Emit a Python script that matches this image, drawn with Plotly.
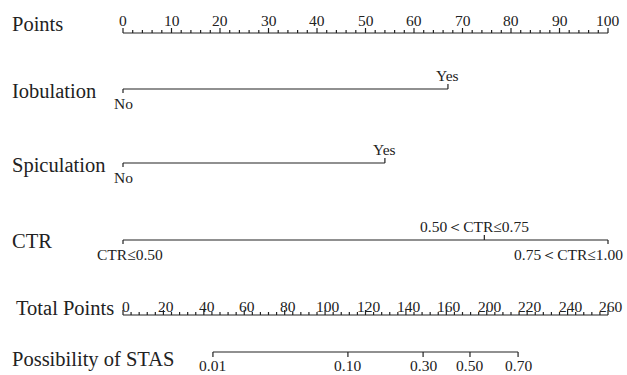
import plotly.graph_objects as go

# ---------------- data ----------------
row_names = ["Points", "Iobulation", "Spiculation", "CTR", "Total Points", "Possibility of STAS"]

points_major = list(range(0, 101, 10))
points_minor = list(range(0, 101, 2))

iob_labels = ["No", "Yes"]
iob_points = [0, 67]
spic_labels = ["No", "Yes"]
spic_points = [0, 54]
ctr_labels = ["CTR≤0.50", "0.50＜CTR≤0.75", "0.75＜CTR≤1.00"]
ctr_points = [0, 74.5, 100]

total_major = list(range(0, 241, 20))
total_minor = list(range(0, 241, 4))
total_tick_labels = ["0", "20", "40", "60", "80", "100", "120", "140", "160",
                     "200", "220", "240", "260"]

prob_labels = ["0.01", "0.10", "0.30", "0.50", "0.70"]
prob_total_points = [44.5, 111.3, 148.5, 171.7, 195.5]

# ---------------- layout constants (pixels) ----------------
W, H = 627, 375
X0, X1 = 123, 608            # pixel span of Points 0..100
row_y = {"Points": 33, "Iobulation": 89, "Spiculation": 163, "CTR": 240,
         "Total Points": 315, "Possibility of STAS": 352}
name_y = {"Points": 24, "Iobulation": 91, "Spiculation": 165, "CTR": 241,
          "Total Points": 308, "Possibility of STAS": 359}
INK = "#222222"
SERIF = "Liberation Serif, Times New Roman, serif"
TICK_SIZE = 15.5

pt_per_px = 100 / (X1 - X0)
x_range = [(0 - X0) * pt_per_px, (W - X0) * pt_per_px]
tp_per_px = (total_major[-1] - total_major[0]) / (X1 - X0)
x2_range = [(0 - X0) * tp_per_px, (W - X0) * tp_per_px]

fig = go.Figure()
annotations = []


def add_lines(xs, ys, axis="x"):
    fig.add_trace(go.Scatter(x=xs, y=ys, mode="lines", xaxis=axis, yaxis="y",
                             line=dict(color=INK, width=1.2), hoverinfo="skip",
                             showlegend=False))


def text(x, y, s, axis="x", size=TICK_SIZE, xanchor="center", xshift=0):
    annotations.append(dict(x=x, y=y, xref=axis, yref="y", text=s, showarrow=False,
                            xanchor=xanchor, yanchor="middle", xshift=xshift,
                            font=dict(family=SERIF, size=size, color=INK)))


# row names
for name in row_names:
    annotations.append(dict(x=(10 if name != "Total Points" else 14) / W, y=name_y[name],
                            xref="paper", yref="y", text=name, showarrow=False,
                            xanchor="left", yanchor="middle",
                            font=dict(family=SERIF, size=20.5, color=INK)))

# Points axis
y = row_y["Points"]
add_lines([points_minor[0], points_minor[-1]], [y, y])
xs, ys = [], []
for v in points_minor:
    h = 5 if v in points_major else 3
    xs += [v, v, None]
    ys += [y, y - h, None]
add_lines(xs, ys)
for v in points_major:
    text(v, 20, str(v))

# categorical variables
def variable(name, pts, labels, sides, anchors=None, shifts=None):
    y = row_y[name]
    add_lines([min(pts), max(pts)], [y, y])
    xs, ys = [], []
    for i, (p, lab, side) in enumerate(zip(pts, labels, sides)):
        d = 4 if side == "below" else -5
        xs += [p, p, None]
        ys += [y, y + d, None]
        ty = y + 14 if side == "below" else y - 14
        xa = anchors[i] if anchors else "center"
        xsh = shifts[i] if shifts else 0
        text(p, ty, lab, xanchor=xa, xshift=xsh)
    add_lines(xs, ys)


variable("Iobulation", iob_points, iob_labels, ["below", "above"])
variable("Spiculation", spic_points, spic_labels, ["below", "above"])
variable("CTR", ctr_points, ctr_labels, ["below", "above", "below"],
         anchors=["left", "center", "right"], shifts=[-28, -10, 17])

# Total points axis
y = row_y["Total Points"]
add_lines([total_minor[0], total_minor[-1]], [y, y], axis="x2")
xs, ys = [], []
for v in total_minor:
    h = 5 if v in total_major else 3
    xs += [v, v, None]
    ys += [y, y - h, None]
add_lines(xs, ys, axis="x2")
for v, lab in zip(total_major, total_tick_labels):
    text(v, 306, lab, axis="x2", xshift=3)

# Possibility axis
y = row_y["Possibility of STAS"]
add_lines([prob_total_points[0], prob_total_points[-1]], [y, y], axis="x2")
xs, ys = [], []
for v in prob_total_points:
    xs += [v, v, None]
    ys += [y, y + 5, None]
add_lines(xs, ys, axis="x2")
for v, lab in zip(prob_total_points, prob_labels):
    text(v, 365, lab, axis="x2")

fig.update_layout(
    width=W, height=H, margin=dict(l=0, r=0, t=0, b=0),
    paper_bgcolor="white", plot_bgcolor="white",
    xaxis=dict(range=x_range, visible=False, fixedrange=True),
    xaxis2=dict(range=x2_range, visible=False, overlaying="x", fixedrange=True),
    yaxis=dict(range=[H, 0], visible=False, fixedrange=True),
    annotations=annotations, showlegend=False,
)

fig.write_html("out.html", config={"displayModeBar": False},
               post_script="document.body.style.margin='0';document.body.style.overflow='hidden';")
